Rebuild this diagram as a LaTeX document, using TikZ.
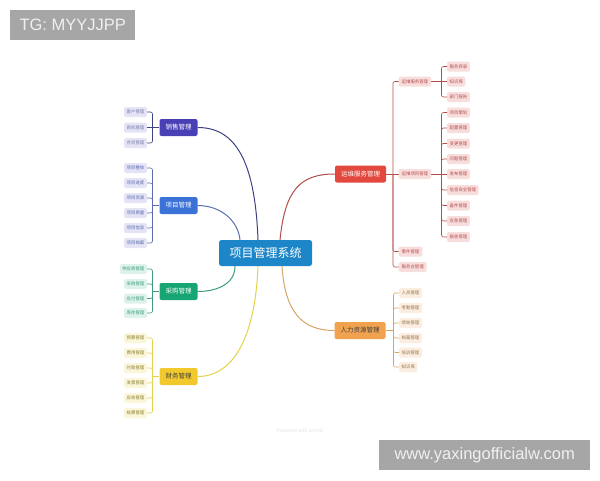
\documentclass[tikz,border=0pt]{standalone}
\usepackage{fontspec}
\setmainfont{Noto Sans CJK SC}
\newfontfamily\marksans{Liberation Sans}

\definecolor{rootblue}{HTML}{1D86C8}
\definecolor{xsfill}{HTML}{4A40B5}
\definecolor{xsline}{HTML}{3E4283}
\definecolor{xsleaf}{HTML}{E5E3F6}
\definecolor{xmfill}{HTML}{3B72D8}
\definecolor{xmline}{HTML}{5A6DAE}
\definecolor{cgfill}{HTML}{17A673}
\definecolor{cgline}{HTML}{3D9C7B}
\definecolor{cgleaf}{HTML}{DDF2EA}
\definecolor{cwfill}{HTML}{F2C92C}
\definecolor{cwline}{HTML}{E3D24A}
\definecolor{cwleaf}{HTML}{FBF5DA}
\definecolor{ywfill}{HTML}{E2483D}
\definecolor{ywline}{HTML}{B24D4A}
\definecolor{ywleaf}{HTML}{F8DDDD}
\definecolor{rlfill}{HTML}{F0A24E}
\definecolor{rlline}{HTML}{D6A465}
\definecolor{rlleaf}{HTML}{FBEDDF}
\definecolor{markgray}{HTML}{A6A6A6}

\tikzset{
	root/.style = {fill=rootblue, text=white, rounded corners=2.5pt, minimum width=93pt, minimum height=26pt, inner sep=0pt, font=\fontsize{12}{12}\selectfont},
	branch/.style = {rounded corners=2pt, minimum height=17pt, inner xsep=6pt, inner ysep=0pt, font=\fontsize{6.5}{6.5}\selectfont},
	leaf/.style = {rounded corners=1.5pt, minimum height=10pt, inner xsep=2.5pt, inner ysep=0pt, font=\fontsize{4.4}{4.4}\selectfont},
	midleaf/.style = {leaf, inner xsep=3pt, fill=ywleaf, text=ywline},
	curve/.style = {line width=1pt},
	brace/.style = {line width=0.6pt, rounded corners=2pt},
	mark box/.style = {fill=markgray, text=white!94!black, inner sep=0pt, font=\marksans\fontsize{16.5}{16.5}\selectfont}
}

\begin{document}
\begin{tikzpicture}[x=1pt, y=-1pt]
	\useasboundingbox (0,0) rectangle (600,480);

	\node[mark box, minimum width=125pt, minimum height=30pt, anchor=north west] (tg) at (10,10) {TG: MYYJJPP};
	\node[mark box, minimum width=211pt, minimum height=30pt, anchor=north west] (web) at (379,440) {www.yaxingofficialw.com};
	\node[text=black!12, font=\fontsize{4.8}{4.8}\selectfont] (xmind) at (300,431) {Powered with xmind};

	\node[root] (xt) at (265.5,253) {项目管理系统};

	\node[branch, fill=xsfill, text=white] (xs) at (178.5,127.5) {销售管理};
	\node[branch, fill=xmfill, text=white] (xm) at (178.5,205.5) {项目管理};
	\node[branch, fill=cgfill, text=white] (cg) at (178.5,291.5) {采购管理};
	\node[branch, fill=cwfill, text=black!75] (cw) at (178.5,376.5) {财务管理};
	\node[branch, fill=ywfill, text=white] (yw) at (360.5,174) {运维服务管理};
	\node[branch, fill=rlfill, text=black!75] (rl) at (360,330.5) {人力资源管理};

	\draw[curve, xsline] ([xshift=-7.5pt]xt.north) .. controls (255,160) and (235,127.5) .. (xs.east);
	\draw[curve, xmline] ([xshift=-25.5pt]xt.north) .. controls (238,220) and (220,205.5) .. (xm.east);
	\draw[curve, cgline] ([xshift=-30.5pt]xt.south) .. controls (235,285) and (215,291.5) .. (cg.east);
	\draw[curve, cwline] ([xshift=-7.5pt]xt.south) .. controls (255,340) and (232,376.5) .. (cw.east);
	\draw[curve, ywline] ([xshift=14.5pt]xt.north) .. controls (285,190) and (300,174) .. (yw.west);
	\draw[curve, rlline] ([xshift=16.5pt]xt.south) .. controls (285,312) and (302,330.5) .. (rl.west);

	\node[leaf, fill=xsleaf, text=xsline!70, anchor=east] (xs1) at (147,112) {客户管理};
	\node[leaf, fill=xsleaf, text=xsline!70, anchor=east] (xs2) at (147,127.5) {商机管理};
	\node[leaf, fill=xsleaf, text=xsline!70, anchor=east] (xs3) at (147,143) {合同管理};
	\coordinate (xsb) at (152.5,127.5);
	\draw[brace, xsline] (xsb) -- (xs.west);
	\draw[brace, xsline] (xs1.east) -| (xsb);
	\draw[brace, xsline] (xs2.east) -- (xsb);
	\draw[brace, xsline] (xs3.east) -| (xsb);

	\node[leaf, fill=xsleaf, text=xmline, anchor=east] (xm1) at (147,168) {项目整体};
	\node[leaf, fill=xsleaf, text=xmline, anchor=east] (xm2) at (147,183) {项目进度};
	\node[leaf, fill=xsleaf, text=xmline, anchor=east] (xm3) at (147,198) {项目资源};
	\node[leaf, fill=xsleaf, text=xmline, anchor=east] (xm4) at (147,213) {项目质量};
	\node[leaf, fill=xsleaf, text=xmline, anchor=east] (xm5) at (147,228) {项目信息};
	\node[leaf, fill=xsleaf, text=xmline, anchor=east] (xm6) at (147,243) {项目档案};
	\coordinate (xmb) at (152.5,205.5);
	\draw[brace, xmline] (xmb) -- (xm.west);
	\draw[brace, xmline] (xm1.east) -| (xmb);
	\draw[brace, xmline] (xm2.east) -| (xmb);
	\draw[brace, xmline] (xm3.east) -| (xmb);
	\draw[brace, xmline] (xm4.east) -| (xmb);
	\draw[brace, xmline] (xm5.east) -| (xmb);
	\draw[brace, xmline] (xm6.east) -| (xmb);

	\node[leaf, fill=cgleaf, text=cgline, anchor=east] (cg1) at (147,269) {供应商管理};
	\node[leaf, fill=cgleaf, text=cgline, anchor=east] (cg2) at (147,284) {采购管理};
	\node[leaf, fill=cgleaf, text=cgline, anchor=east] (cg3) at (147,298.5) {应付管理};
	\node[leaf, fill=cgleaf, text=cgline, anchor=east] (cg4) at (147,313) {库存管理};
	\coordinate (cgb) at (152.5,291.5);
	\draw[brace, cgline] (cgb) -- (cg.west);
	\draw[brace, cgline] (cg1.east) -| (cgb);
	\draw[brace, cgline] (cg2.east) -| (cgb);
	\draw[brace, cgline] (cg3.east) -| (cgb);
	\draw[brace, cgline] (cg4.east) -| (cgb);

	\node[leaf, fill=cwleaf, text=cwline!60!black, anchor=east] (cw1) at (147,338) {预算管理};
	\node[leaf, fill=cwleaf, text=cwline!60!black, anchor=east] (cw2) at (147,353) {费用管理};
	\node[leaf, fill=cwleaf, text=cwline!60!black, anchor=east] (cw3) at (147,368) {付款管理};
	\node[leaf, fill=cwleaf, text=cwline!60!black, anchor=east] (cw4) at (147,383) {发票管理};
	\node[leaf, fill=cwleaf, text=cwline!60!black, anchor=east] (cw5) at (147,398) {应收管理};
	\node[leaf, fill=cwleaf, text=cwline!60!black, anchor=east] (cw6) at (147,413) {核算管理};
	\coordinate (cwb) at (152.5,376.5);
	\draw[brace, cwline] (cwb) -- (cw.west);
	\draw[brace, cwline] (cw1.east) -| (cwb);
	\draw[brace, cwline] (cw2.east) -| (cwb);
	\draw[brace, cwline] (cw3.east) -| (cwb);
	\draw[brace, cwline] (cw4.east) -| (cwb);
	\draw[brace, cwline] (cw5.east) -| (cwb);
	\draw[brace, cwline] (cw6.east) -| (cwb);

	\node[midleaf, anchor=west] (yw1) at (398.5,81.5) {运维服务管理};
	\node[midleaf, anchor=west] (yw2) at (398.5,174) {运维项目管理};
	\node[midleaf, anchor=west] (yw3) at (398.5,251.5) {事件管理};
	\node[midleaf, anchor=west] (yw4) at (398.5,267) {服务台管理};
	\coordinate (ywb) at (393,174);
	\draw[brace, ywline] (yw.east) -- (ywb);
	\draw[brace, ywline] (ywb) |- (yw1.west);
	\draw[brace, ywline] (ywb) -- (yw2.west);
	\draw[brace, ywline] (ywb) |- (yw3.west);
	\draw[brace, ywline] (ywb) |- (yw4.west);

	\node[leaf, fill=ywleaf, text=ywline, anchor=west] (fw1) at (447,66.5) {服务目录};
	\node[leaf, fill=ywleaf, text=ywline, anchor=west] (fw2) at (447,81.5) {知识库};
	\node[leaf, fill=ywleaf, text=ywline, anchor=west] (fw3) at (447,97) {部门报告};
	\coordinate (fwb) at (441.5,81.5);
	\draw[brace, ywline] (yw1.east) -- (fwb);
	\draw[brace, ywline] (fwb) |- (fw1.west);
	\draw[brace, ywline] (fwb) -- (fw2.west);
	\draw[brace, ywline] (fwb) |- (fw3.west);

	\node[leaf, fill=ywleaf, text=ywline, anchor=west] (xy1) at (447,112.5) {项目策划};
	\node[leaf, fill=ywleaf, text=ywline, anchor=west] (xy2) at (447,128) {配置管理};
	\node[leaf, fill=ywleaf, text=ywline, anchor=west] (xy3) at (447,143.5) {变更管理};
	\node[leaf, fill=ywleaf, text=ywline, anchor=west] (xy4) at (447,159) {问题管理};
	\node[leaf, fill=ywleaf, text=ywline, anchor=west] (xy5) at (447,174) {发布管理};
	\node[leaf, fill=ywleaf, text=ywline, anchor=west] (xy6) at (447,190) {信息安全管理};
	\node[leaf, fill=ywleaf, text=ywline, anchor=west] (xy7) at (447,205.5) {备件管理};
	\node[leaf, fill=ywleaf, text=ywline, anchor=west] (xy8) at (447,221) {应急管理};
	\node[leaf, fill=ywleaf, text=ywline, anchor=west] (xy9) at (447,237) {报告管理};
	\coordinate (xyb) at (441.5,174);
	\draw[brace, ywline] (yw2.east) -- (xyb);
	\draw[brace, ywline] (xyb) |- (xy1.west);
	\draw[brace, ywline] (xyb) |- (xy2.west);
	\draw[brace, ywline] (xyb) |- (xy3.west);
	\draw[brace, ywline] (xyb) |- (xy4.west);
	\draw[brace, ywline] (xyb) -- (xy5.west);
	\draw[brace, ywline] (xyb) |- (xy6.west);
	\draw[brace, ywline] (xyb) |- (xy7.west);
	\draw[brace, ywline] (xyb) |- (xy8.west);
	\draw[brace, ywline] (xyb) |- (xy9.west);

	\node[leaf, fill=rlleaf, text=rlline!70!black, anchor=west] (rl1) at (399,293) {人员管理};
	\node[leaf, fill=rlleaf, text=rlline!70!black, anchor=west] (rl2) at (399,308) {考勤管理};
	\node[leaf, fill=rlleaf, text=rlline!70!black, anchor=west] (rl3) at (399,323) {绩效管理};
	\node[leaf, fill=rlleaf, text=rlline!70!black, anchor=west] (rl4) at (399,338) {档案管理};
	\node[leaf, fill=rlleaf, text=rlline!70!black, anchor=west] (rl5) at (399,352.5) {培训管理};
	\node[leaf, fill=rlleaf, text=rlline!70!black, anchor=west] (rl6) at (399,367) {知识库};
	\coordinate (rlb) at (393.5,330.5);
	\draw[brace, rlline] (rl.east) -- (rlb);
	\draw[brace, rlline] (rlb) |- (rl1.west);
	\draw[brace, rlline] (rlb) |- (rl2.west);
	\draw[brace, rlline] (rlb) |- (rl3.west);
	\draw[brace, rlline] (rlb) |- (rl4.west);
	\draw[brace, rlline] (rlb) |- (rl5.west);
	\draw[brace, rlline] (rlb) |- (rl6.west);
\end{tikzpicture}
\end{document}
